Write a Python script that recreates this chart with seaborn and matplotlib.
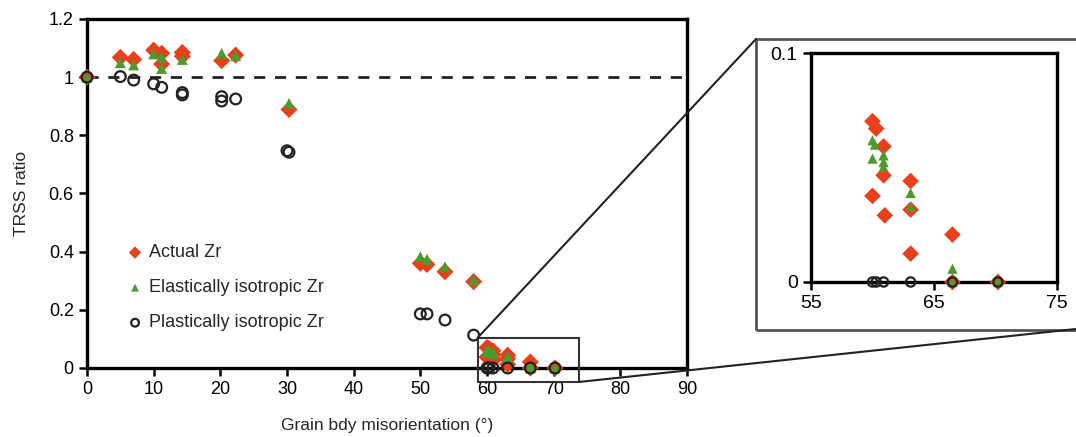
import numpy as np
import pandas as pd
import matplotlib
matplotlib.use('Agg')
import matplotlib.pyplot as plt
import seaborn as sns
from matplotlib.patches import Rectangle, ConnectionPatch

# === DATA ===
actual_x = [0, 5, 7, 10, 11.2, 11.2, 14.3, 14.3, 20.2, 22.3, 30.3, 50, 51, 53.7, 58,
            60, 60.3, 60.9, 60.9, 60, 61, 63.1, 63.1, 63.1, 66.5, 66.5, 70.2]
actual_y = [1.0, 1.068, 1.061, 1.093, 1.082, 1.045, 1.085, 1.072, 1.057, 1.076, 0.889,
            0.36, 0.356, 0.331, 0.297,
            0.0702, 0.067, 0.0592, 0.0466, 0.0376, 0.0291, 0.0441, 0.0316, 0.0124,
            0.0207, 0, 0]

elastic_x = [0, 5, 7, 10, 11.2, 11.2, 14.3, 20.2, 22.3, 30.3, 50, 51, 53.7, 58,
             60, 60.2, 60, 60.9, 60.9, 60.9, 63.1, 63.1, 66.5, 66.5, 70.2]
elastic_y = [1.0, 1.05, 1.042, 1.08, 1.07, 1.03, 1.061, 1.082, 1.074, 0.91,
             0.383, 0.374, 0.348, 0.303,
             0.0619, 0.060, 0.0539, 0.0553, 0.0524, 0.0502, 0.0389, 0.0328, 0.0058, 0, 0]

plastic_x = [0, 5, 7, 10, 11.2, 14.3, 14.3, 20.2, 20.2, 22.3, 30, 30.3, 50, 51, 53.7, 58,
             60, 60.3, 60.9, 63.1, 66.5, 70.2]
plastic_y = [1.0, 1.002, 0.99, 0.977, 0.965, 0.947, 0.939, 0.933, 0.918, 0.925, 0.747, 0.742,
             0.186, 0.186, 0.165, 0.113, 0, 0, 0, 0, 0, 0]

labels = ['Actual Zr', 'Elastically isotropic Zr', 'Plastically isotropic Zr']

actual = pd.DataFrame({'x': actual_x, 'y': actual_y})
elastic = pd.DataFrame({'x': elastic_x, 'y': elastic_y})
plastic = pd.DataFrame({'x': plastic_x, 'y': plastic_y})

red = '#e8401c'
green = '#4f9a2f'

sns.set_style('ticks')
plt.rcParams['font.family'] = ['Liberation Sans', 'DejaVu Sans']

fig = plt.figure(figsize=(10.76, 4.37), dpi=100)
ax = fig.add_axes([87 / 1076, 1 - 368 / 437, 600 / 1076, 349 / 437])
axi = fig.add_axes([811 / 1076, 1 - 282 / 437, 246 / 1076, 229 / 437])


def draw(a, frames, sd, st, sc, fs):
    d_a, d_e, d_p = frames
    sns.scatterplot(data=d_a, x='x', y='y', ax=a, marker='D', s=sd, color=red,
                    edgecolor='none', label=labels[0], clip_on=False, zorder=3)
    sns.scatterplot(data=d_e, x='x', y='y', ax=a, marker='^', s=st, color=green,
                    edgecolor='none', label=labels[1], clip_on=False, zorder=4)
    sns.scatterplot(data=d_p, x='x', y='y', ax=a, marker='o', s=sc, facecolor='none',
                    edgecolor='#222222', linewidth=1.6, label=labels[2], clip_on=False, zorder=5)
    for sp in a.spines.values():
        sp.set_linewidth(2.4)
        sp.set_color('black')
    a.tick_params(width=1.8, length=6, labelsize=fs, colors='black')
    a.set_xlabel('')
    a.set_ylabel('')


# --- main axes ---
draw(ax, (actual, elastic, plastic), 76, 62, 60, 13)
ax.axhline(1, color='#222222', linestyle=(0, (4, 3.5)), linewidth=2, zorder=2)
ax.set_xlim(0, 90)
ax.set_ylim(0, 1.2)
ax.set_xticks(np.arange(0, 91, 10))
ax.set_yticks([0, 0.2, 0.4, 0.6, 0.8, 1.0, 1.2])
ax.set_yticklabels(['0', '0.2', '0.4', '0.6', '0.8', '1', '1.2'])
ax.set_xlabel('Grain bdy misorientation (°)', fontsize=12.5, labelpad=14)
ax.set_ylabel('TRSS ratio', fontsize=12.5, labelpad=14)
ax.legend(loc='upper left', bbox_to_anchor=(0.053, 0.375), frameon=False, fontsize=13,
          markerscale=0.72, handletextpad=0.3, labelspacing=1.0, borderaxespad=0,
          handlelength=1.0)

# zoom rectangle on main axes
ax.add_patch(Rectangle((58.6, -0.048), 15.2, 0.152, fill=False, edgecolor='#333333',
                       linewidth=1.5, clip_on=False, zorder=6))

# --- inset axes (only the points inside the zoomed window) ---
def window(df):
    return df[(df.x >= 55) & (df.x <= 75) & (df.y <= 0.1)]


draw(axi, (window(actual), window(elastic), window(plastic)), 72, 55, 45, 14)
axi.set_xlim(55, 75)
axi.set_ylim(0, 0.1)
axi.set_xticks([55, 65, 75])
axi.set_yticks([0, 0.1])
axi.set_yticklabels(['0', '0.1'])
axi.get_legend().remove()

# grey frame around inset and connector lines
fig.add_artist(Rectangle((756 / 1076, 1 - 330 / 437), 0.3, 291 / 437, fill=False,
                         edgecolor='#555555', linewidth=2, transform=fig.transFigure))
fig.add_artist(ConnectionPatch(xyA=(58.6, 0.104), coordsA=ax.transData,
                               xyB=(756 / 1076, 1 - 39 / 437), coordsB=fig.transFigure,
                               color='#222222', linewidth=1.5))
fig.add_artist(ConnectionPatch(xyA=(73.8, -0.048), coordsA=ax.transData,
                               xyB=(1.0, 1 - 329 / 437), coordsB=fig.transFigure,
                               color='#222222', linewidth=1.5))

plt.savefig('out.png', dpi=100)
